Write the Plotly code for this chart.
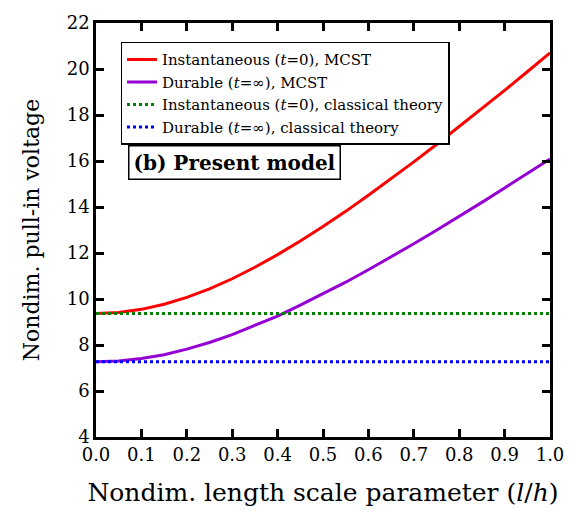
import plotly.graph_objects as go

# Nondimensional length scale parameter l/h
l_over_h = [0.0, 0.05, 0.1, 0.15, 0.2, 0.25, 0.3, 0.35, 0.4, 0.45, 0.5,
            0.55, 0.6, 0.65, 0.7, 0.75, 0.8, 0.85, 0.9, 0.95, 1.0]

# Pull-in voltage, modified couple stress theory (MCST)
inst_mcst = [9.37, 9.415, 9.55, 9.77, 10.07, 10.44, 10.88, 11.38, 11.93, 12.52, 13.15,
             13.81, 14.51, 15.22, 15.96, 16.72, 17.49, 18.27, 19.07, 19.88, 20.70]
dur_mcst = [7.27, 7.305, 7.41, 7.58, 7.82, 8.11, 8.45, 8.84, 9.26, 9.73, 10.22,
            10.73, 11.27, 11.83, 12.40, 12.99, 13.59, 14.20, 14.83, 15.46, 16.09]

# Classical theory (size-independent)
inst_classical = 9.37
dur_classical = 7.27

y_ticks = [4, 6, 8, 10, 12, 14, 16, 18, 20, 22]
x_ticks = [0.0, 0.1, 0.2, 0.3, 0.4, 0.5, 0.6, 0.7, 0.8, 0.9, 1.0]

FONT = "DejaVu Serif"

fig = go.Figure()
fig.add_trace(go.Scatter(x=l_over_h, y=inst_mcst, mode="lines",
                         line=dict(color="#ff0000", width=3),
                         name="Instantaneous (<i>t</i>=0), MCST"))
fig.add_trace(go.Scatter(x=l_over_h, y=dur_mcst, mode="lines",
                         line=dict(color="#9400d3", width=3),
                         name="Durable (<i>t</i>=∞), MCST"))
fig.add_trace(go.Scatter(x=l_over_h, y=[inst_classical] * len(l_over_h), mode="lines",
                         line=dict(color="#008000", width=3, dash="dot"),
                         name="Instantaneous (<i>t</i>=0), classical theory"))
fig.add_trace(go.Scatter(x=l_over_h, y=[dur_classical] * len(l_over_h), mode="lines",
                         line=dict(color="#0000ff", width=3, dash="dot"),
                         name="Durable (<i>t</i>=∞), classical theory"))

axis_common = dict(
    showline=True, linecolor="black", linewidth=2.5, mirror="ticks",
    ticks="inside", ticklen=8, tickwidth=2.5, tickcolor="black",
    showgrid=False, zeroline=False,
    tickfont=dict(family=FONT, size=18, color="black"),
)

fig.update_xaxes(range=[0, 1], tickvals=x_ticks,
                 ticktext=[f"{v:.1f}" for v in x_ticks],
                 title=dict(text="Nondim. length scale parameter (<i>l</i>/<i>h</i>)",
                            font=dict(family=FONT, size=25, color="black"), standoff=20),
                 **axis_common)
fig.update_yaxes(range=[4, 22], tickvals=y_ticks,
                 title=dict(text="Nondim. pull-in voltage",
                            font=dict(family=FONT, size=22, color="black"), standoff=22),
                 **axis_common)

fig.add_annotation(x=0.305, y=0.664, xref="paper", yref="paper",
                   xanchor="center", yanchor="middle",
                   text="<b>(b) Present model</b>", showarrow=False,
                   font=dict(family=FONT, size=20, color="black"),
                   bordercolor="black", borderwidth=1.5, borderpad=4, bgcolor="white")

fig.update_layout(
    width=576, height=516,
    margin=dict(l=96, r=15, t=17, b=79),
    plot_bgcolor="white", paper_bgcolor="white",
    showlegend=True,
    legend=dict(x=0.054, y=0.955, xanchor="left", yanchor="top",
                bgcolor="white", bordercolor="black", borderwidth=1.5,
                font=dict(family=FONT, size=15, color="black"),
                itemwidth=30, tracegroupgap=0),
)

fig.write_html("out.html")
